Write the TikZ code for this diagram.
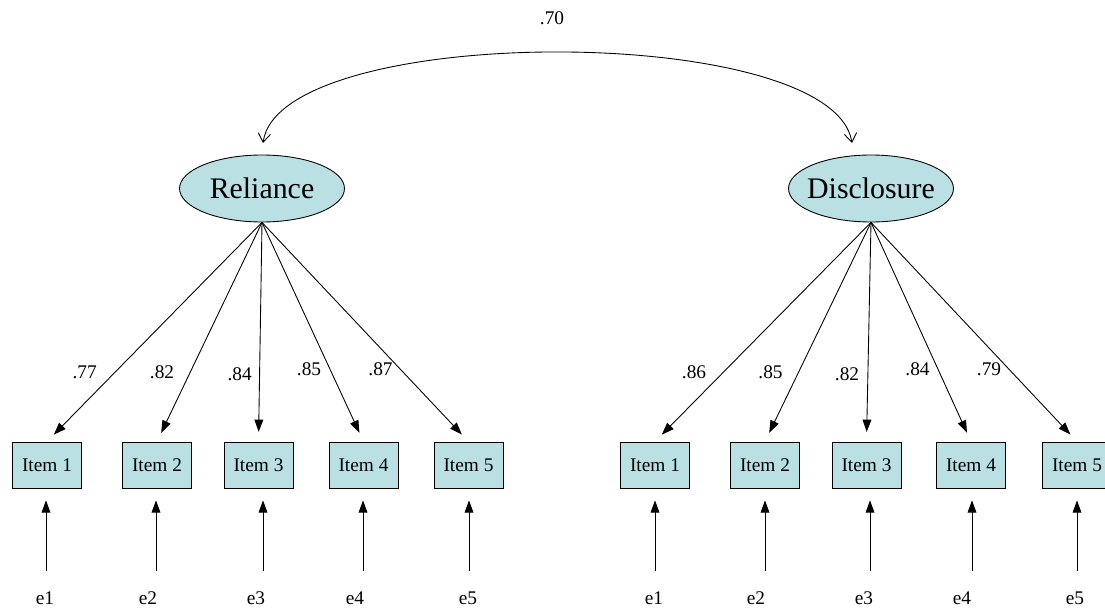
\documentclass[tikz,border=0pt]{standalone}
\usepackage{fontspec}
\setmainfont{Liberation Serif}
\usetikzlibrary{arrows.meta,shapes.geometric}
\definecolor{boxfill}{RGB}{187,224,227}
\begin{document}
\begin{tikzpicture}[x=0.02cm,y=-0.02cm,
  latent/.style={ellipse,draw,fill=boxfill,line width=0.5pt,minimum width=3.3cm,minimum height=1.34cm,inner sep=0pt,
    label={[inner sep=0pt,font=\fontsize{17}{20}\selectfont]center:#1}},
  item/.style={rectangle,draw,fill=boxfill,line width=0.5pt,minimum width=1.38cm,minimum height=0.92cm,inner sep=0pt,font=\fontsize{11}{13}\selectfont},
  lbl/.style={inner sep=0pt,font=\fontsize{11}{13}\selectfont},
  load/.style={line width=0.5pt,-{Triangle[length=7pt,width=5pt]},shorten >=5.5pt},
  err/.style={line width=0.5pt,-{Triangle[length=7pt,width=5pt]},shorten >=6.8pt},
  cov/.style={line width=0.5pt,{Straight Barb[length=5pt,width=7pt]}-{Straight Barb[length=5pt,width=7pt]}}]
\useasboundingbox (0,0) rectangle (1105,608);

% latent factors
\node[latent=Reliance] (rel) at (262,188.5) {};
\node[latent=Disclosure] (dis) at (871,188.5) {};

% correlation between the factors
\coordinate (cl) at (263,143);
\coordinate (cr) at (852,143);
\draw[cov] (cl) .. controls (280,22) and (833,22) .. (cr);
\node[lbl] (r) at (552,18) {.70};

% Reliance indicators
\foreach \i/\x/\ex/\bx/\w/\lx/\ly in {1/47/45/46/.77/84.7/372,2/157/148/156/.82/162/372,3/258.5/256/263/.84/239.7/374,4/363.5/355/363/.85/309/369,5/468.5/468/469/.87/380.5/369}{
  \node[item] (ra\i) at (\x,465) {Item \i};
  \draw[load] (rel.south) -- (ra\i.north);
  \node[lbl] (rw\i) at (\lx,\ly) {\w};
  \node[lbl] (re\i) at (\ex,598) {e\i};
  \coordinate (rb\i) at (\bx,571);
  \draw[err] (rb\i) -- (rb\i |- ra\i.south);
}

% Disclosure indicators
\foreach \i/\x/\ex/\bx/\w/\lx/\ly in {1/655/654/655/.86/694/372,2/765/756/765/.85/770.5/372,3/866.5/864/870/.82/847/374,4/971/962/972/.84/917.5/369,5/1077/1075/1077/.79/989/369}{
  \node[item] (da\i) at (\x,465) {Item \i};
  \draw[load] (dis.south) -- (da\i.north);
  \node[lbl] (dw\i) at (\lx,\ly) {\w};
  \node[lbl] (de\i) at (\ex,598) {e\i};
  \coordinate (db\i) at (\bx,571);
  \draw[err] (db\i) -- (db\i |- da\i.south);
}
\end{tikzpicture}
\end{document}
